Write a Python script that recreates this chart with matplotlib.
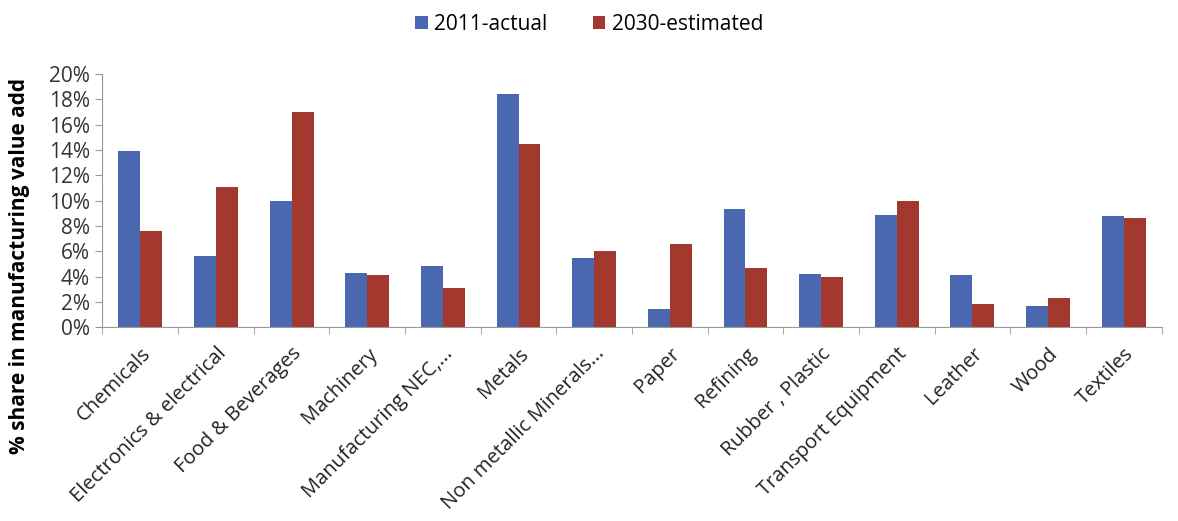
import numpy as np
import matplotlib.pyplot as plt

categories = ['Chemicals', 'Electronics & electrical', 'Food & Beverages', 'Machinery',
              'Manufacturing NEC,...', 'Metals', 'Non metallic Minerals...', 'Paper',
              'Refining', 'Rubber , Plastic', 'Transport Equipment', 'Leather', 'Wood',
              'Textiles']
actual_2011 = [13.9, 5.6, 10.0, 4.3, 4.8, 18.4, 5.5, 1.4, 9.3, 4.2, 8.9, 4.1, 1.7, 8.8]
estimated_2030 = [7.6, 11.1, 17.0, 4.1, 3.1, 14.5, 6.0, 6.6, 4.7, 4.0, 10.0, 1.8, 2.3, 8.6]

plt.rcParams['font.family'] = ['Open Sans', 'DejaVu Sans']

fig = plt.figure(figsize=(11.78, 5.21), dpi=100)
ax = fig.add_axes([0.087, 0.372, 0.899, 0.486])

x = np.arange(len(categories))
w = 0.29
ax.bar(x - w / 2, actual_2011, w, color='#4a68b0', label='2011-actual')
ax.bar(x + w / 2, estimated_2030, w, color='#a3392e', label='2030-estimated')

ax.set_xlim(-0.5, len(categories) - 0.5)
ax.set_ylim(0, 20)
ax.set_yticks(range(0, 21, 2))
ax.set_yticklabels([f'{v}%' for v in range(0, 21, 2)], fontsize=15, color='#333333')
ax.set_xticks(x)
ax.set_xticklabels(categories, rotation=45, ha='right', rotation_mode='anchor',
                   fontsize=14.5, color='#222222')
ax.set_xticks(np.arange(-0.5, len(categories)), minor=True)
ax.tick_params(axis='x', which='major', length=0, pad=12)
ax.tick_params(axis='x', which='minor', length=5, color='#999999', direction='out')
ax.tick_params(axis='y', length=5, color='#999999', pad=4)

for s in ['top', 'right']:
    ax.spines[s].set_visible(False)
for s in ['left', 'bottom']:
    ax.spines[s].set_color('#999999')

ax.set_ylabel('% share in manufacturing value add', fontsize=15, fontweight='bold')
ax.yaxis.set_label_coords(-0.068, 0.24)

fig.legend(loc='upper center', bbox_to_anchor=(0.5, 1.01), ncol=2, frameon=False,
           fontsize=15, handlelength=0.6, handleheight=0.6, columnspacing=2.2,
           handletextpad=0.3)

plt.savefig('out.png', dpi=100)
